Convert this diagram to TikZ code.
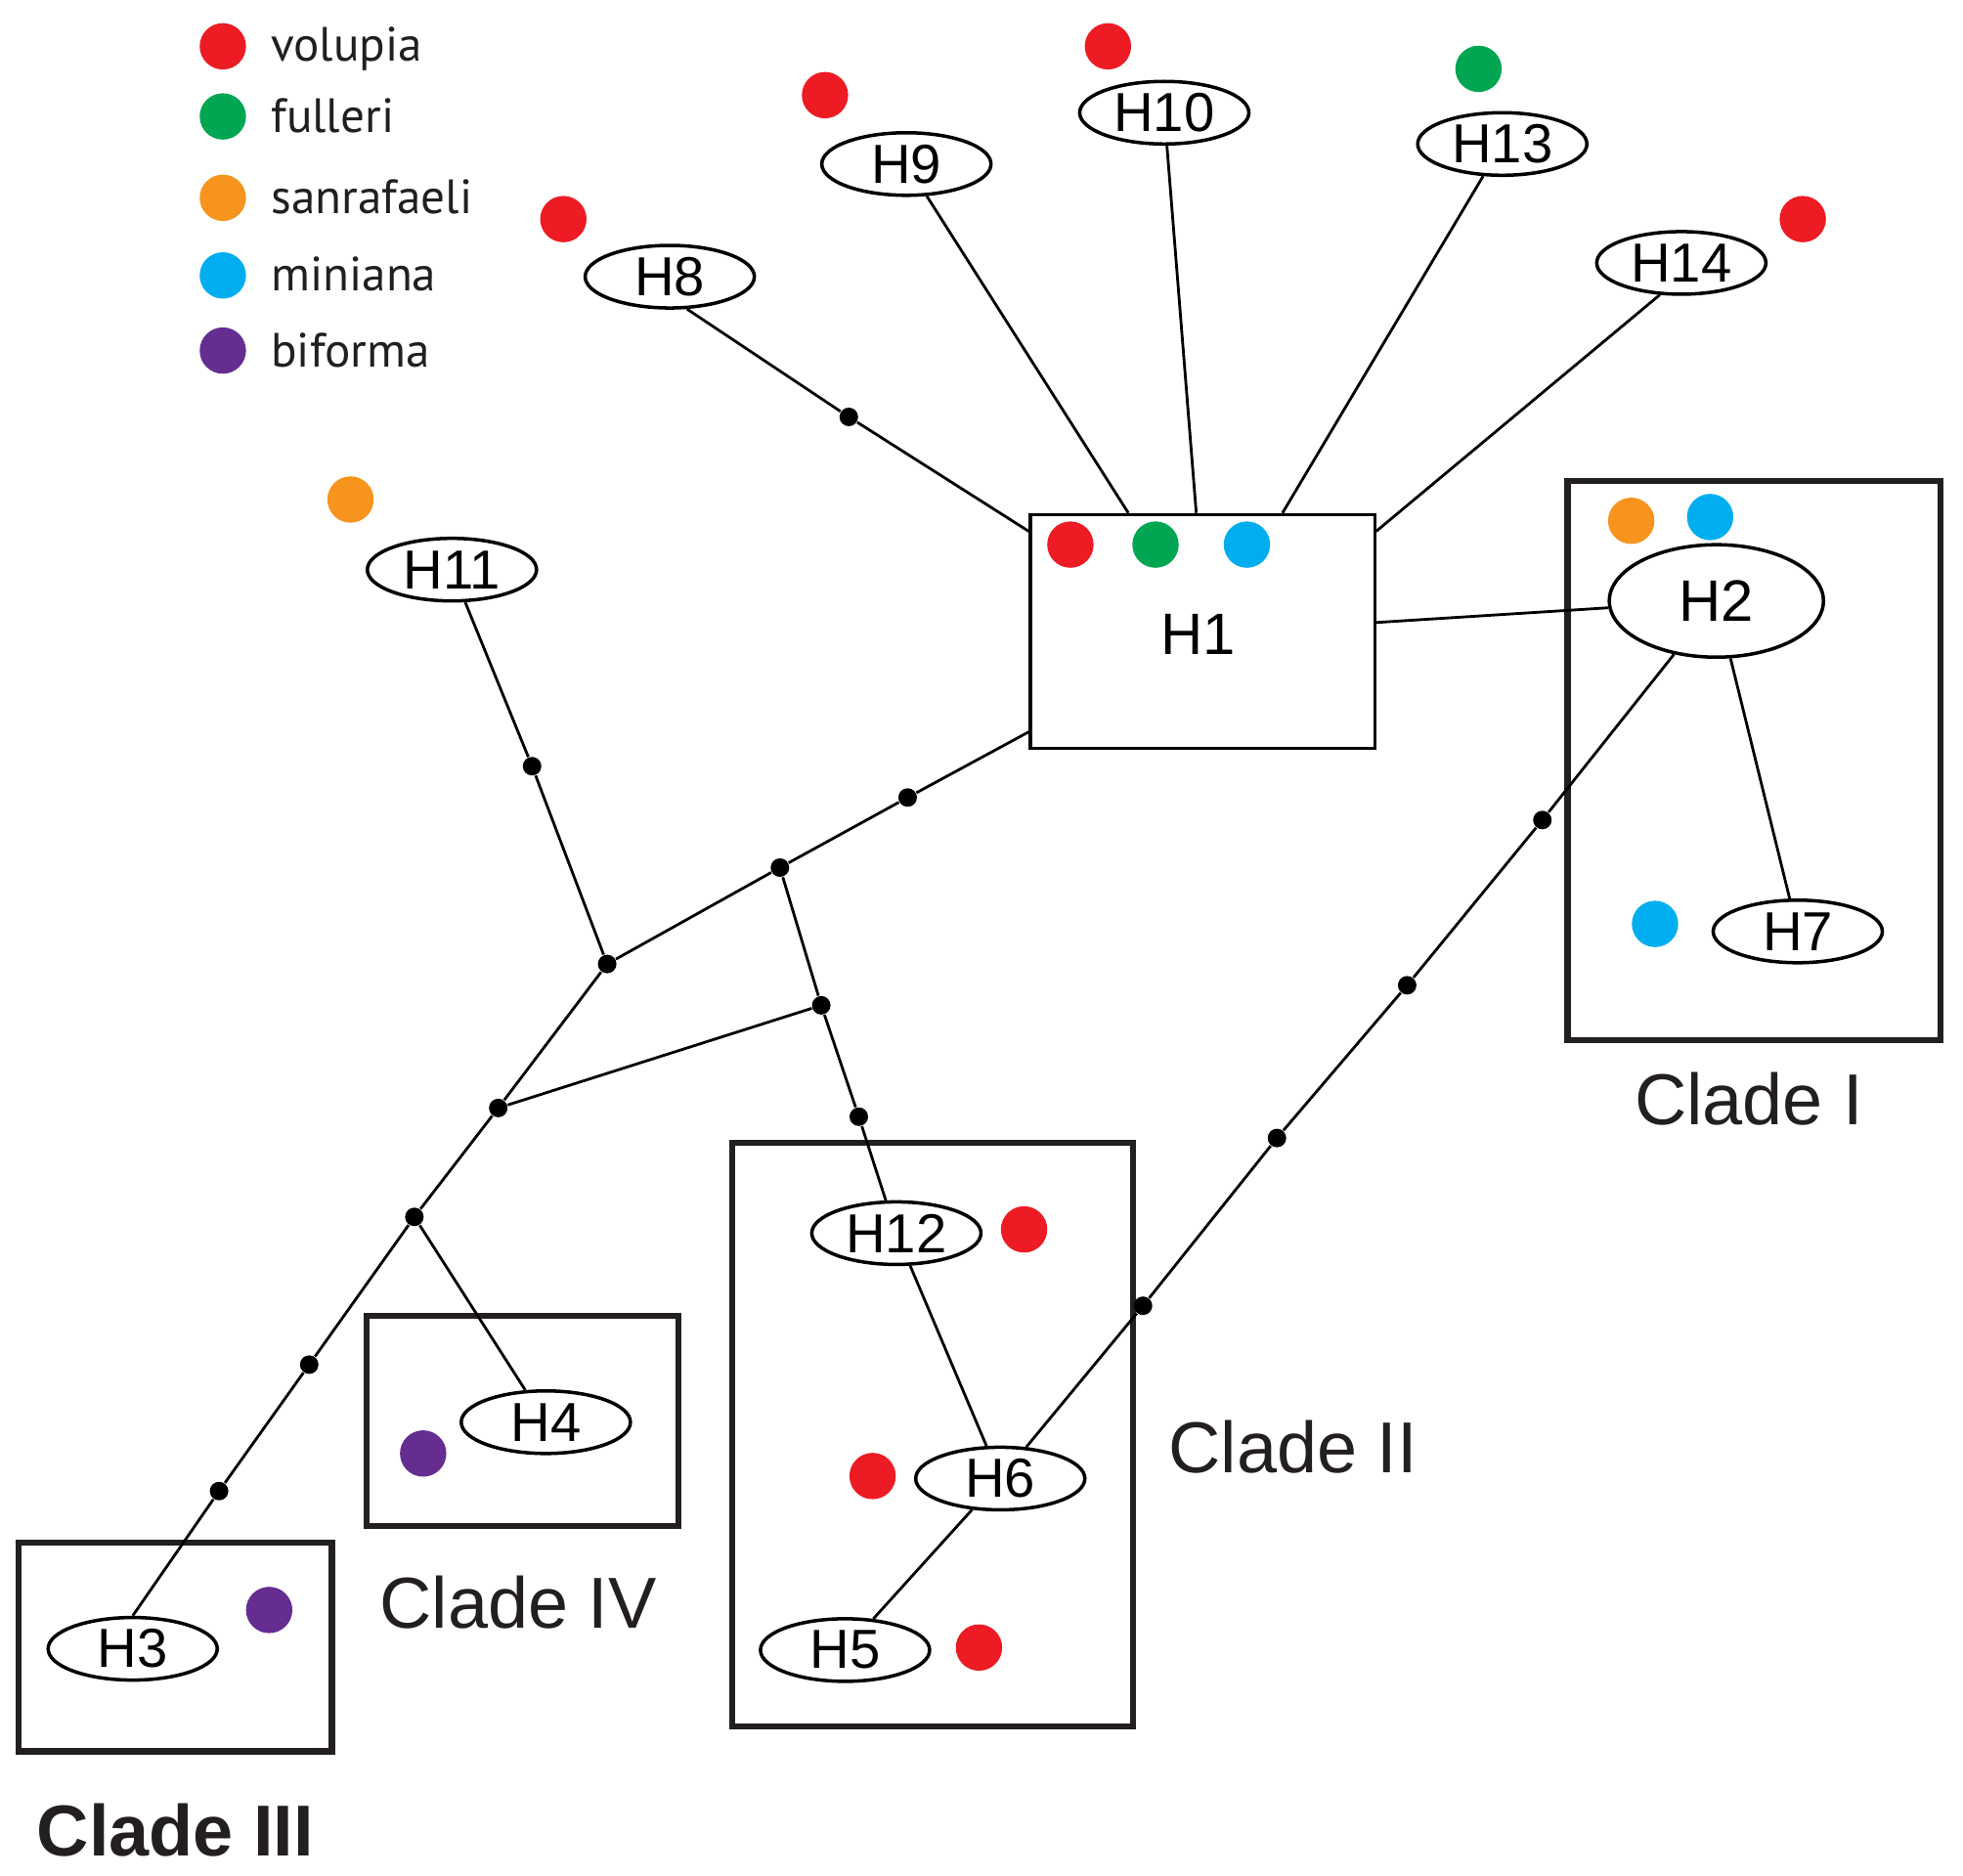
\documentclass[tikz,border=0pt]{standalone}
\usepackage{fontspec}
\setmainfont{Liberation Sans}
\newfontfamily\legfont{PT Sans}
\usetikzlibrary{shapes.geometric}
\definecolor{cred}{HTML}{ED1C24}
\definecolor{cgreen}{HTML}{00A651}
\definecolor{corange}{HTML}{F7941D}
\definecolor{cblue}{HTML}{00AEEF}
\definecolor{cpurple}{HTML}{662D91}
\definecolor{boxgray}{HTML}{231F20}
\begin{document}
\begin{tikzpicture}[x=0.012806cm,y=-0.012806cm,
  hap/.style={ellipse, draw, line width=1pt, fill=white, minimum width=1.73cm, minimum height=0.64cm, inner sep=0pt, font=\fontsize{16}{16}\selectfont},
  dotc/.style={circle, fill=#1, minimum size=0.474cm, inner sep=0pt},
  jn/.style={circle, fill=black, minimum size=0.19cm, inner sep=0pt},
  link/.style={line width=0.8pt},
  clade/.style={draw=boxgray, line width=1.8pt},
  cladelab/.style={text=boxgray, inner sep=0pt, font=\fontsize{21}{21}\selectfont},
  leg/.style={anchor=base west, inner sep=0pt, text=boxgray, font=\legfont\fontsize{14}{14}\selectfont}]
\useasboundingbox (0,0) rectangle (1568,1498);

% legend
\node[dotc=cred] (l1) at (178,37) {};
\node[dotc=cgreen] (l2) at (178,93) {};
\node[dotc=corange] (l3) at (178,158) {};
\node[dotc=cblue] (l4) at (178,220) {};
\node[dotc=cpurple] (l5) at (178,280) {};
\node[leg] (t1) at (216,49) {volupia};
\node[leg] (t2) at (216,106) {fulleri};
\node[leg] (t3) at (216,171) {sanrafaeli};
\node[leg] (t4) at (216,232) {miniana};
\node[leg] (t5) at (216,293) {biforma};

% clade boxes
\draw[clade] (1252,384) rectangle (1550,831);
\draw[clade] (585,913) rectangle (905,1379);
\draw[clade] (293,1051) rectangle (542,1219);
\draw[clade] (15,1232) rectangle (265,1399);
\node[cladelab] (c1) at (1397,878) {Clade I};
\node[cladelab] (c2) at (1033,1156) {Clade II};
\node[cladelab] (c4) at (414,1280) {Clade IV};
\node[cladelab, font=\bfseries\fontsize{21}{21}\selectfont] (c3) at (140,1462) {Clade III};

% haplotypes
\node[draw, line width=0.9pt, minimum width=3.52cm, minimum height=2.395cm, inner sep=0pt, font=\fontsize{17}{17}\selectfont] (H1) at (960.5,504.5) {};
\node[inner sep=0pt, font=\fontsize{17}{17}\selectfont] (H1t) at (957,507) {H1};
\node[hap, minimum width=2.19cm, minimum height=1.15cm, font=\fontsize{17}{17}\selectfont] (H2) at (1371,480) {H2};
\node[hap] (H3) at (106,1317) {H3};
\node[hap] (H4) at (436,1136) {H4};
\node[hap] (H5) at (675,1318) {H5};
\node[hap] (H6) at (799,1181) {H6};
\node[hap] (H7) at (1436,744) {H7};
\node[hap] (H8) at (535,221) {H8};
\node[hap] (H9) at (724,131) {H9};
\node[hap] (H10) at (930,90) {H10};
\node[hap] (H11) at (361,455) {H11};
\node[hap] (H12) at (716,985) {H12};
\node[hap] (H13) at (1200,115) {H13};
\node[hap] (H14) at (1343,210) {H14};

% colour dots
\node[dotc=cred] (d8) at (450,175) {};
\node[dotc=cred] (d9) at (659,76) {};
\node[dotc=cred] (d10) at (885,37) {};
\node[dotc=cgreen] (d13) at (1181,55) {};
\node[dotc=cred] (d14) at (1440,175) {};
\node[dotc=corange] (d11) at (280,399) {};
\node[dotc=cred] (d1a) at (855,435) {};
\node[dotc=cgreen] (d1b) at (923,435) {};
\node[dotc=cblue] (d1c) at (996,435) {};
\node[dotc=corange] (d2a) at (1303,416) {};
\node[dotc=cblue] (d2b) at (1366,413) {};
\node[dotc=cblue] (d7) at (1322,738) {};
\node[dotc=cred] (d12) at (818,982) {};
\node[dotc=cred] (d6) at (697,1179) {};
\node[dotc=cred] (d5) at (782,1316) {};
\node[dotc=cpurple] (d4) at (338,1161) {};
\node[dotc=cpurple] (d3) at (215,1286) {};

% junctions
\node[jn] (a1) at (678,333) {};
\node[jn] (b1) at (425,612) {};
\node[jn] (m1) at (725,637) {};
\node[jn] (m2) at (623,693) {};
\node[jn] (m3) at (485,770) {};
\node[jn] (m4) at (398,885) {};
\node[jn] (m5) at (331,972) {};
\node[jn] (m6) at (247,1090) {};
\node[jn] (m7) at (175,1191) {};
\node[jn] (n1) at (656,803) {};
\node[jn] (n2) at (686,892) {};
\node[jn] (p1) at (1232,655) {};
\node[jn] (p2) at (1124,787) {};
\node[jn] (p3) at (1020,909) {};
\node[jn] (p4) at (913,1043) {};

% connectors
\draw[link] (H8.-62) -- (a1) -- (H1.150.6);
\draw[link] (H9) -- (H1.122.5);
\draw[link] (H10) -- (H1.93.4);
\draw[link] (H13) -- (H1.56.2);
\draw[link] (H14.236) -- (H1.30);
\draw[link] (H1.3) -- (H2);
\draw[link] (H2) -- (H7);
\draw[link] (H1.210) -- (m1) -- (m2) -- (m3) -- (m4) -- (m5) -- (m6) -- (m7) -- (H3.north);
\draw[link] (H11) -- (b1) -- (m3);
\draw[link] (m2) -- (n1) -- (n2) -- (H12);
\draw[link] (n1) -- (m4);
\draw[link] (m5) -- (H4);
\draw[link] (H12) -- (H6);
\draw[link] (H6) -- (H5);
\draw[link] (H2) -- (p1) -- (p2) -- (p3) -- (p4) -- (H6);
\end{tikzpicture}
\end{document}
